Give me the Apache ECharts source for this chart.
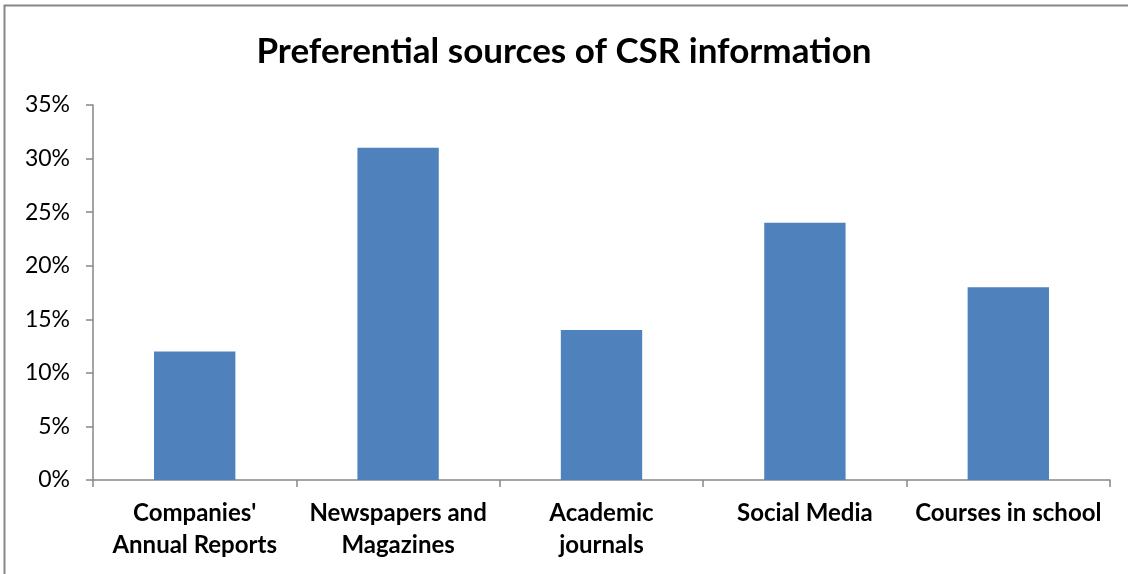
<!DOCTYPE html>
<html>
<head>
<meta charset="utf-8">
<script src="https://cdn.jsdelivr.net/npm/echarts@6/dist/echarts.min.js"></script>
<style>
  html, body { margin: 0; padding: 0; background: #fff; }
  #chart { width: 1128px; height: 574px; }
</style>
</head>
<body>
<div id="chart"></div>
<script>
// Share of respondents naming each source
const categories = ["Companies'\nAnnual Reports", "Newspapers and\nMagazines", "Academic\njournals", "Social Media", "Courses in school"];
const shares = [12, 31, 14, 24, 18];
const yTicks = [0, 5, 10, 15, 20, 25, 30, 35];

const FONT = 'Lato';
const axisGray = '#868686';

const chart = echarts.init(document.getElementById('chart'));
chart.setOption({
  animation: false,
  backgroundColor: '#fff',
  graphic: [{
    type: 'rect',
    shape: { x: 4.5, y: 5.5, width: 1130, height: 580 },
    style: { fill: 'none', stroke: axisGray, lineWidth: 2 },
    silent: true
  }],
  title: {
    text: 'Preferential sources of CSR information',
    left: 'center',
    top: 29,
    textStyle: { fontFamily: FONT, fontWeight: 'bold', fontSize: 35, color: '#000' }
  },
  grid: { left: 93, right: 18, top: 105, bottom: 94 },
  xAxis: {
    type: 'category',
    data: categories,
    axisLine: { lineStyle: { color: axisGray, width: 1.5 } },
    axisTick: { show: true, length: 7, alignWithLabel: false, lineStyle: { color: axisGray, width: 1.5 } },
    axisLabel: {
      interval: 0, margin: 17,
      fontFamily: FONT, fontWeight: 'bold', fontSize: 24, color: '#000', lineHeight: 32
    }
  },
  yAxis: {
    type: 'value',
    min: yTicks[0],
    max: yTicks[yTicks.length - 1],
    interval: 5,
    splitLine: { show: false },
    axisLine: { show: true, lineStyle: { color: axisGray, width: 1.5 } },
    axisTick: { show: true, length: 7, lineStyle: { color: axisGray, width: 1.5 } },
    axisLabel: {
      margin: 23,
      fontFamily: FONT, fontSize: 23, color: '#000',
      formatter: v => v + '%'
    }
  },
  series: [{
    type: 'bar',
    data: shares,
    barWidth: '40%',
    itemStyle: { color: '#4F81BD' }
  }]
});
</script>
</body>
</html>
